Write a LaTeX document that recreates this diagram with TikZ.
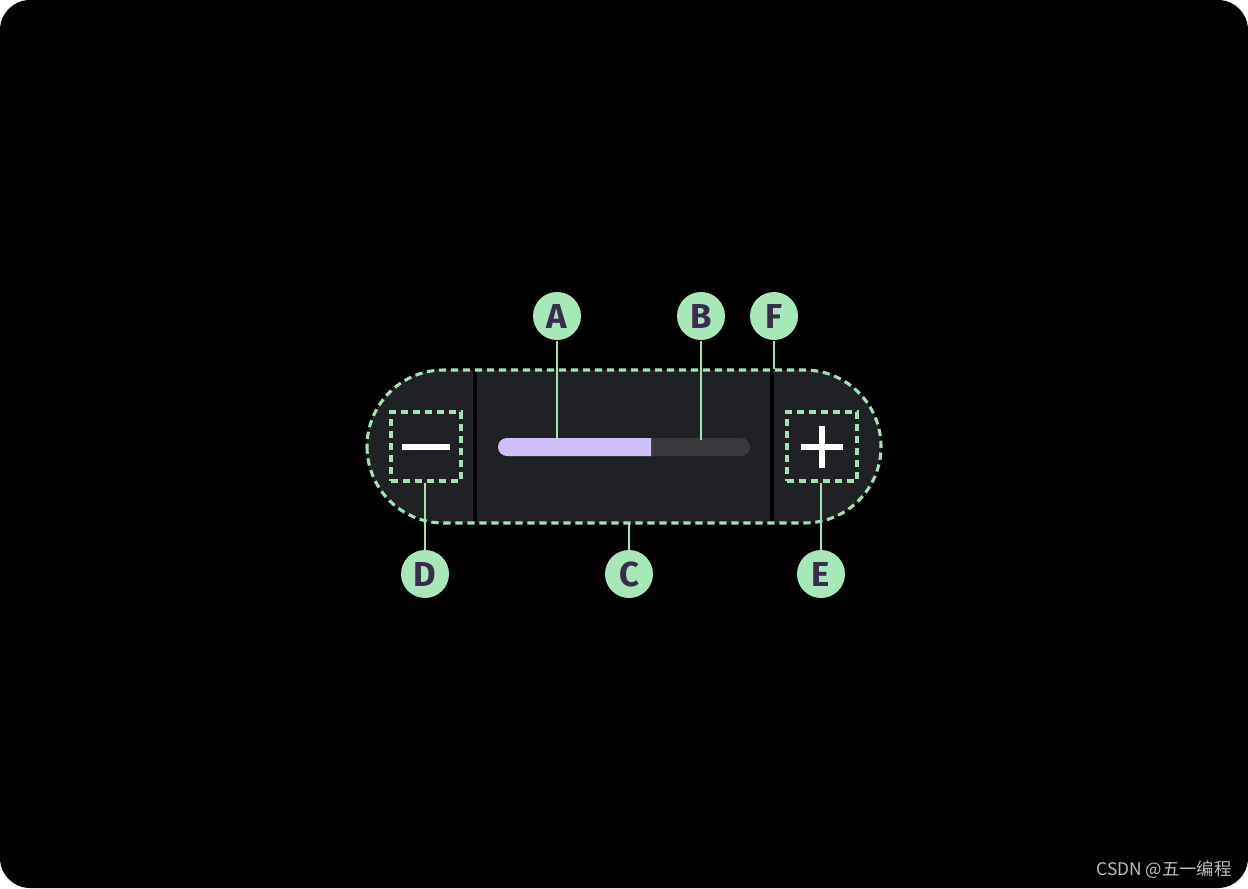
\documentclass[tikz,border=0pt]{standalone}
\usepackage{fontspec}
\newfontfamily\labelfont{Fira Sans}
\newfontfamily\cjk{Noto Sans CJK SC}
\definecolor{pillfill}{RGB}{32,33,36}
\definecolor{trackgray}{RGB}{56,57,60}
\definecolor{trackpurple}{RGB}{206,192,246}
\definecolor{dashgreen}{RGB}{160,228,180}
\definecolor{calloutfill}{RGB}{166,232,184}
\definecolor{callouttext}{RGB}{58,44,78}
\definecolor{markgray}{RGB}{190,190,190}
\tikzset{every picture/.style={line width=0.75pt}}

\begin{document}
\begin{tikzpicture}[x=0.75pt,y=0.75pt,yscale=-1,xscale=1,
    callout/.style={circle, fill=calloutfill, text=callouttext, minimum size=36pt, inner sep=0pt,
      font=\labelfont\bfseries\fontsize{26}{26}\selectfont},
    leader/.style={draw=dashgreen, line width=1.1pt},
    outline/.style={draw=dashgreen, line width=2.3pt, dash pattern=on 5.5pt off 3.5pt},
    iconbox/.style={outline, minimum width=52.5pt, minimum height=51.75pt, inner sep=0pt}]
    \useasboundingbox (0,0) rectangle (1248,888);
    
    %Background
    \fill[white] (0,0) rectangle (1248,888);
    \fill[black, rounded corners=22.5pt] (0,0) rectangle (1248,888);
    
    %Pill container
    \fill[pillfill, rounded corners=57.4pt] (367,370) rectangle (881,523);
    %Dividers
    \draw[black, line width=2.4pt] (475,370) -- (475,523);
    \draw[black, line width=2.4pt] (772,370) -- (772,523);
    \draw[outline, rounded corners=57.4pt] (367,370) rectangle (881,523);
    
    %Track
    \fill[trackgray, rounded corners=6.75pt] (498,438) rectangle (750,456);
    \begin{scope}
      \clip (490,430) rectangle (651,464);
      \fill[trackpurple, rounded corners=6.75pt] (498,438) rectangle (750,456);
    \end{scope}
    
    %Icon boxes
    \node[iconbox] (minusbox) at (426,446.5) {};
    \node[iconbox] (plusbox) at (822,446.5) {};
    \fill[white] (402,444) rectangle (450,450);
    \fill[white] (801,444) rectangle (843,450);
    \fill[white] (819,426) rectangle (825,468);
    
    %Leader ends
    \coordinate (activeend) at (557,440);
    \coordinate (inactiveend) at (701,440);
    \coordinate (dividertop) at (774,369);
    \coordinate (pillbottom) at (629,524);
    
    % Callouts
    \node[callout] (A) at (557,316) {A};
    \node[callout] (B) at (701,316) {B};
    \node[callout] (F) at (774,316) {F};
    \node[callout] (D) at (425,574) {D};
    \node[callout] (C) at (629,574) {C};
    \node[callout] (E) at (821,574) {E};
    
    \draw[leader] (A) -- (activeend);
    \draw[leader] (B) -- (inactiveend);
    \draw[leader] (F) -- (dividertop);
    \draw[leader] (minusbox.south -| D) -- (D);
    \draw[leader] (pillbottom) -- (C);
    \draw[leader] (plusbox.south -| E) -- (E);
    
    % Watermark
    \node[anchor=base east, inner sep=0pt, text=markgray, font=\cjk\fontsize{13}{13}\selectfont] (mark) at (1232,875) {CSDN @五一编程};
\end{tikzpicture}
\end{document}
